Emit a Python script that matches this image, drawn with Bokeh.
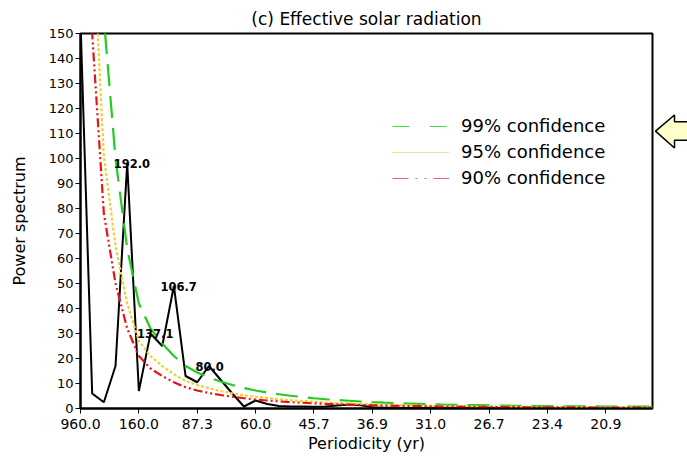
from bokeh.plotting import figure
from bokeh.layouts import row
from bokeh.models import (ColumnDataSource, FixedTicker, Legend, LegendItem,
                          Range1d)
from bokeh.core.properties import value
from bokeh.embed import file_html
from bokeh.resources import INLINE

# ---------------- data ----------------
freq_index = list(range(1, 51))

power = [155, 6, 2.5, 17, 98, 7, 30, 25, 49, 13,
         10.5, 17, 11.5, 6, 0.8, 3.2, 1.8, 1.0, 0.8, 0.8,
         0.7, 0.8, 1.2, 1.6, 1.3, 0.5, 0.3, 0.3, 0.25, 0.25,
         0.3, 0.2, 0.3, 0.2, 0.2, 0.3, 0.2, 0.2, 0.1, 0.2,
         0.2, 0.1, 0.2, 0.1, 0.1, 0.2, 0.1, 0.1, 0.1, 0.1]

conf99 = [1200, 300, 156, 100, 64, 42, 32, 26, 21, 17,
          14.4, 12.4, 10.8, 9.4, 8.2, 7.2, 6.4, 5.7, 5.1, 4.6,
          4.1, 3.7, 3.4, 3.1, 2.8, 2.56, 2.34, 2.14, 2.0, 1.86,
          1.72, 1.6, 1.5, 1.4, 1.32, 1.24, 1.16, 1.1, 1.04, 1.0,
          0.96, 0.92, 0.88, 0.84, 0.82, 0.8, 0.78, 0.76, 0.74, 0.72]

conf95 = [780, 195, 101, 65, 42, 27, 21, 17, 13.7, 11,
          9.4, 8.1, 7.0, 6.1, 5.3, 4.7, 4.2, 3.7, 3.3, 3.0,
          2.7, 2.4, 2.2, 2.0, 1.8, 1.66, 1.52, 1.4, 1.3, 1.2,
          1.12, 1.04, 0.98, 0.91, 0.86, 0.81, 0.75, 0.72, 0.68, 0.65,
          0.62, 0.6, 0.57, 0.55, 0.53, 0.52, 0.51, 0.49, 0.48, 0.47]

conf90 = [600, 150, 78, 50, 32, 21, 16, 13, 10.5, 8.5,
          7.2, 6.2, 5.4, 4.7, 4.1, 3.6, 3.2, 2.85, 2.55, 2.3,
          2.05, 1.85, 1.7, 1.55, 1.4, 1.28, 1.17, 1.07, 1.0, 0.93,
          0.86, 0.8, 0.75, 0.7, 0.66, 0.62, 0.58, 0.55, 0.52, 0.5,
          0.48, 0.46, 0.44, 0.42, 0.41, 0.4, 0.39, 0.38, 0.37, 0.36]

tick_index = [1, 6, 11, 16, 21, 26, 31, 36, 41, 46]
tick_labels = ["960.0", "160.0", "87.3", "60.0", "45.7",
               "36.9", "31.0", "26.7", "23.4", "20.9"]

peak_index = [5, 7, 9, 12]
peak_labels = ["192.0", "137.1", "106.7", "80.0"]

y_ticks = list(range(0, 151, 10))

legend_labels = ["99% confidence", "95% confidence", "90% confidence"]

FONT = "DejaVu Sans"

# ---------------- main figure ----------------
p = figure(frame_width=572, frame_height=375,
           min_border_left=80, min_border_right=2,
           min_border_top=33, min_border_bottom=57,
           x_range=Range1d(1, 50), y_range=Range1d(0, 150),
           title="(c) Effective solar radiation",
           output_backend="svg", toolbar_location=None)

p.title.align = "center"
p.title.text_font = FONT
p.title.text_font_size = "17px"
p.title.text_font_style = "normal"
p.title.text_color = "black"
p.title.standoff = 9
p.title.offset = 0

p.xgrid.visible = False
p.ygrid.visible = False
p.outline_line_color = "black"
p.outline_line_width = 2
p.background_fill_color = "white"
p.border_fill_color = "white"

for ax in (p.xaxis[0], p.yaxis[0]):
    ax.axis_line_width = 2
    ax.axis_line_color = "black"
    ax.major_tick_line_color = "black"
    ax.major_tick_line_width = 1
    ax.major_tick_in = 0
    ax.major_tick_out = 5
    ax.minor_tick_line_color = None
    ax.major_label_text_font = FONT
    ax.major_label_text_color = "black"
    ax.axis_label_text_font = FONT
    ax.axis_label_text_font_style = "normal"
    ax.axis_label_text_color = "black"
    ax.axis_label_text_font_size = "16px"

p.xaxis.ticker = FixedTicker(ticks=tick_index)
p.xaxis.major_label_overrides = {t: l for t, l in zip(tick_index, tick_labels)}
p.xaxis.major_label_text_font_size = "14px"
p.xaxis.major_label_standoff = 5
p.xaxis.axis_label = "Periodicity (yr)"
p.xaxis.axis_label_standoff = 2

p.yaxis.ticker = FixedTicker(ticks=y_ticks)
p.yaxis.major_label_text_font_size = "13px"
p.yaxis.major_label_standoff = 2
p.yaxis.axis_label = "Power spectrum"
p.yaxis.axis_label_standoff = 17

src = ColumnDataSource(dict(k=freq_index, power=power,
                            c99=conf99, c95=conf95, c90=conf90))

p.line("k", "power", source=src, line_color="black", line_width=2)
p.line("k", "c99", source=src, line_color="#22CC22", line_width=2.2,
       line_dash="22 10")
p.line("k", "c95", source=src, line_color="#EBD234", line_width=2.2,
       line_dash="3 2")
p.line("k", "c90", source=src, line_color="#EE1111", line_width=2.2,
       line_dash="9 3 2 3 2 3")

# peak labels
lab_src = ColumnDataSource(dict(x=peak_index,
                                y=[power[i - 1] for i in peak_index],
                                text=peak_labels))
p.text(x="x", y="y", text="text", source=lab_src,
       text_font=value(FONT), text_font_style="bold",
       text_font_size="11.5px", text_color="black",
       text_align="left", text_baseline="alphabetic", x_offset=-13.5)

# legend: thin sample lines as in the original; the proxy renderers use a
# single point placed outside the visible range, so they draw nothing
proxy = ColumnDataSource(dict(x=[-10], y=[-10]))
r99 = p.line("x", "y", source=proxy, line_color="#44DD44", line_width=1,
             line_dash="17 20")
r95 = p.line("x", "y", source=proxy, line_color="#EEE48A", line_width=1.2)
r90 = p.line("x", "y", source=proxy, line_color="#F2559A", line_width=1,
             line_dash="16 7 2 7 2 7")
legend = Legend(items=[LegendItem(label=lab, renderers=[r])
                       for lab, r in zip(legend_labels, [r99, r95, r90])],
                location=(312, 220), glyph_width=57, glyph_height=20,
                label_height=20, label_standoff=12, spacing=5,
                padding=0, margin=0, border_line_color=None,
                background_fill_alpha=0, label_text_font=FONT,
                label_text_font_size="18px", label_text_color="black")
p.add_layout(legend)

# ---------------- decorative arrow panel at the right ----------------
pa = figure(width=33, height=465, min_border=0,
            x_range=Range1d(0, 33), y_range=Range1d(465, 0),
            x_axis_type=None, y_axis_type=None,
            output_backend="svg", toolbar_location=None)
pa.outline_line_color = None
pa.xgrid.visible = False
pa.ygrid.visible = False
pa.background_fill_color = "white"
pa.border_fill_color = "white"
pa.patch([1, 20, 20, 40, 40, 20, 20],
         [121, 101, 109.5, 109.5, 132.5, 132.5, 142],
         fill_color="#FFFFCC", line_color="black", line_width=1.5)

layout = row(p, pa, spacing=0)
open("out.html", "w").write(file_html(layout, INLINE))
